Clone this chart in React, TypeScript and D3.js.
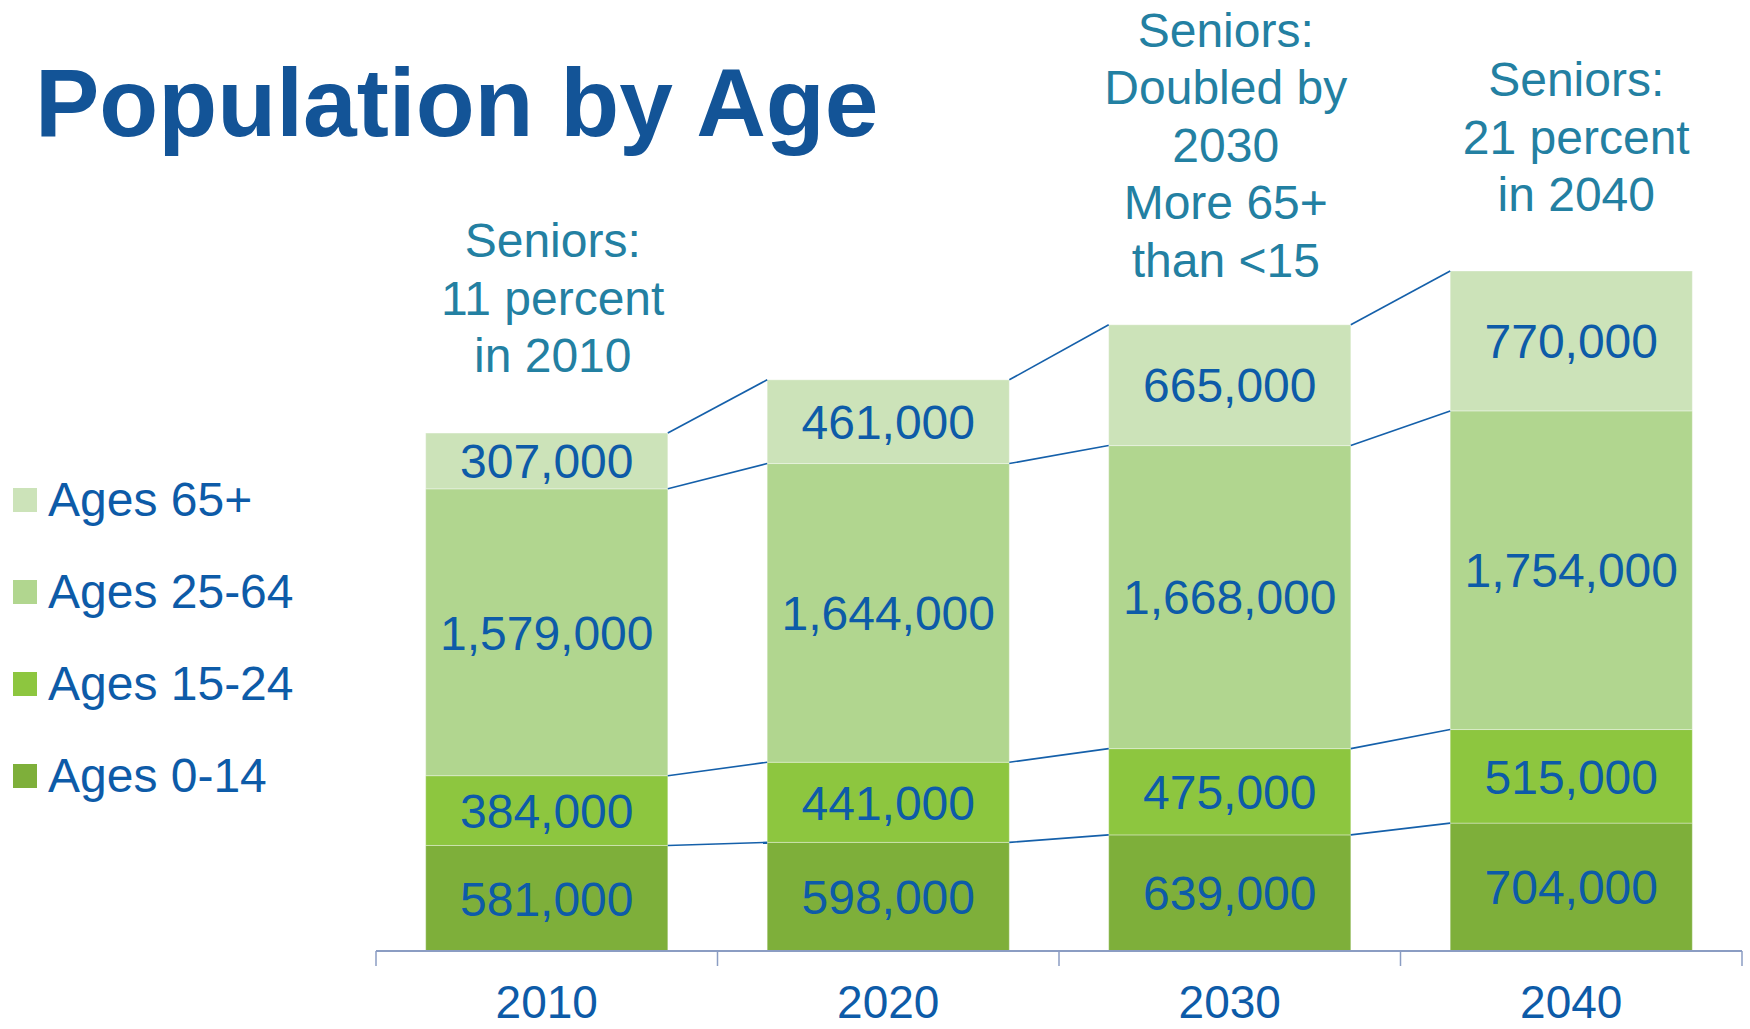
import React from "react";
import * as d3 from "d3";

const years = ["2010", "2020", "2030", "2040"];
const ages0to14 = [581000, 598000, 639000, 704000];
const ages15to24 = [384000, 441000, 475000, 515000];
const ages25to64 = [1579000, 1644000, 1668000, 1754000];
const ages65plus = [307000, 461000, 665000, 770000];
const seriesNames = ["Ages 0-14", "Ages 15-24", "Ages 25-64", "Ages 65+"];
const seriesColors = ["#7EAF3A", "#8DC63F", "#B1D68F", "#CCE3B9"];
const annotations = [
  ["Seniors:", "11 percent", "in 2010"],
  [],
  ["Seniors:", "Doubled by", "2030", "More 65+", "than <15"],
  ["Seniors:", "21 percent", "in 2040"],
];

const W = 1750;
const H = 1029;
const FONT = "'Liberation Sans', Arial, Helvetica, sans-serif";
const VALUE_COLOR = "#0D5BA8";
const NOTE_COLOR = "#2380A2";
const AXIS_COLOR = "#8B9DC3";
// gap between the last annotation line baseline and the bar top, and x nudge
const noteGap = [61, 0, 48, 60];
const noteShift = [6, 0, -4, 5];

const App: React.FC = () => {
  const series = [ages0to14, ages15to24, ages25to64, ages65plus];
  const rows = years.map((year, i) => {
    const r: any = { year };
    seriesNames.forEach((n, k) => (r[n] = series[k][i]));
    return r;
  });
  const stacked = d3.stack<any>().keys(seriesNames)(rows);
  const totals = years.map((_, i) => d3.sum(series, (s) => s[i]));

  const x = d3
    .scaleBand()
    .domain(years)
    .range([376, 1742])
    .paddingInner(0.291)
    .paddingOuter(0.1455);
  const y = d3
    .scaleLinear()
    .domain([0, d3.max(totals) ?? 0])
    .range([951, 271]);

  const bw = x.bandwidth();
  const step = x.step();
  const half = (step - bw) / 2;
  const fmt = d3.format(",");

  const tickXs = [...years.map((yr) => (x(yr) ?? 0) - half), (x(years[years.length - 1]) ?? 0) + bw + half];

  return (
    <svg
      width={W}
      height={H}
      style={{ position: "absolute", left: 0, top: 0, background: "#fff" }}
      fontFamily={FONT}
    >
      <text x={35} y={136} fontSize={96.5} fontWeight="bold" fill="#135497">
        Population by Age
      </text>

      {/* legend */}
      {seriesNames
        .map((n, k) => ({ n, k }))
        .reverse()
        .map(({ n, k }, i) => (
          <g key={n} transform={`translate(0, ${i * 92})`}>
            <rect x={13} y={488} width={24} height={24} fill={seriesColors[k]} />
            <text x={48} y={516} fontSize={48} fill={VALUE_COLOR}>
              {n}
            </text>
          </g>
        ))}

      {/* bars */}
      {stacked.map((layer, k) => (
        <g key={layer.key}>
          {layer.map((d, i) => (
            <rect
              key={years[i]}
              x={x(years[i])}
              y={y(d[1])}
              width={bw}
              height={y(d[0]) - y(d[1])}
              fill={seriesColors[k]}
              stroke="#ffffff"
              strokeOpacity={0.35}
              strokeWidth={1}
            />
          ))}
        </g>
      ))}

      {/* connectors */}
      {stacked.map((layer) =>
        layer.slice(0, -1).map((d, i) => (
          <line
            key={layer.key + i}
            x1={(x(years[i]) ?? 0) + bw}
            y1={y(d[1])}
            x2={x(years[i + 1])}
            y2={y(layer[i + 1][1])}
            stroke="#1560AA"
            strokeWidth={1.6}
          />
        ))
      )}

      {/* value labels */}
      {stacked.map((layer) =>
        layer.map((d, i) => (
          <text
            key={layer.key + "l" + i}
            x={(x(years[i]) ?? 0) + bw / 2}
            y={(y(d[0]) + y(d[1])) / 2}
            dy="0.36em"
            textAnchor="middle"
            fontSize={48}
            fill={VALUE_COLOR}
          >
            {fmt(d[1] - d[0])}
          </text>
        ))
      )}

      {/* annotations */}
      {annotations.map((lines, i) => {
        const lastY = y(totals[i]) - noteGap[i];
        const cx = (x(years[i]) ?? 0) + bw / 2 + noteShift[i];
        return (
          <g key={"note" + i}>
            {lines.map((t, j) => (
              <text
                key={j}
                x={cx}
                y={lastY - (lines.length - 1 - j) * 57.5}
                textAnchor="middle"
                fontSize={48}
                fill={NOTE_COLOR}
              >
                {t}
              </text>
            ))}
          </g>
        );
      })}

      {/* axis */}
      <line x1={376} x2={1742} y1={951} y2={951} stroke={AXIS_COLOR} strokeWidth={2} />
      {tickXs.map((tx, i) => (
        <line key={"t" + i} x1={tx} x2={tx} y1={951} y2={966} stroke={AXIS_COLOR} strokeWidth={1.5} />
      ))}
      {years.map((yr) => (
        <text
          key={"yr" + yr}
          x={(x(yr) ?? 0) + bw / 2}
          y={1018}
          textAnchor="middle"
          fontSize={46}
          fill={VALUE_COLOR}
        >
          {yr}
        </text>
      ))}
    </svg>
  );
};

export default App;
